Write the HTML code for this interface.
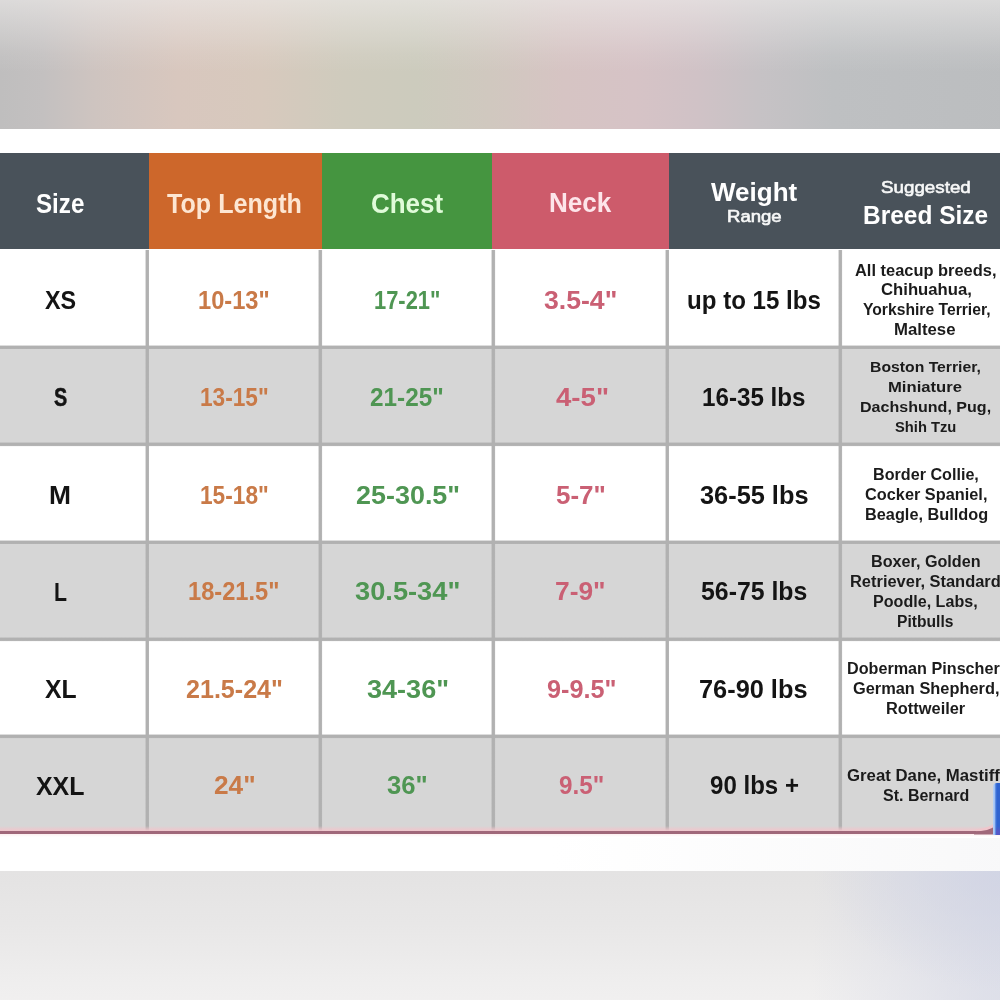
<!DOCTYPE html>
<html lang="en">
<head>
<meta charset="utf-8">
<title>Size Chart</title>
<style>
html,body{margin:0;padding:0;}
html{width:1000px;height:1000px;overflow:hidden;background:#ffffff;}
body{width:1000px;height:1000px;overflow:hidden;background:#ffffff;font-family:"Liberation Sans",sans-serif;position:relative;}
#clip{position:absolute;left:0;top:0;width:1000px;height:1000px;overflow:hidden;}
#wrap{position:absolute;left:-20px;top:-20px;width:1040px;height:1040px;overflow:hidden;background:#ffffff;filter:blur(0.55px);}
#page{position:absolute;left:20px;top:20px;width:1000px;height:1000px;}
.abs{position:absolute;}
#topbg{left:-20px;top:-20px;width:1040px;height:148.5px;
 background:
  linear-gradient(to bottom, rgba(238,236,235,.62) 13%, rgba(238,236,235,.38) 30%, rgba(238,236,235,.10) 50%, rgba(238,236,235,0) 62%),
  linear-gradient(to right,#bfbebe 2%,#c3c0c0 6%,#cec4c0 11%,#d8c7be 19%,#d7c9bd 27%,#cfcbbd 35%,#cccbbd 42%,#d0c8bf 49%,#d6c4c3 56%,#d6c3c6 63%,#d0c2c6 69%,#c6c2c5 75%,#bec0c2 82%,#bbbdbf 100%);}
#botbg{left:-20px;top:871px;width:1040px;height:150px;
 background:
  radial-gradient(ellipse 190px 120px at 1030px 0px, rgba(204,208,228,.6) 0%, rgba(206,210,228,.3) 55%, rgba(210,213,229,0) 100%),
  linear-gradient(to right, rgba(212,215,230,0) 80%, rgba(212,215,230,.3) 88%, rgba(212,215,230,.6) 96%, rgba(212,215,230,.7) 100%),
  linear-gradient(to bottom,#e4e3e3 0%,#e8e7e7 35%,#efeeee 75%,#f2f1f1 100%);}
.hd{top:153px;height:96.4px;}
.row{left:-20px;width:1040px;}
.w{background:#ffffff;}
.g{background:#d6d6d6;}
.hl{left:-20px;width:1040px;height:4.6px;background:linear-gradient(to bottom,rgba(176,176,176,0) 0,#b1b1b1 1.15px,#b1b1b1 3.45px,rgba(176,176,176,0) 4.6px);}
.vl{top:249.6px;height:582px;width:4.6px;background:linear-gradient(to right,rgba(176,176,176,0) 0,#b1b1b1 1.15px,#b1b1b1 3.45px,rgba(176,176,176,0) 4.6px);}
.t{position:absolute;white-space:nowrap;transform-origin:0 0;display:block;}
</style>
</head>
<body>
<div id="clip"><div id="wrap"><div id="page">
<div class="abs" id="topbg"></div>
<div class="abs" id="botbg"></div>

<!-- header -->
<div class="abs hd" style="left:-20px;width:168.5px;background:#49525a;"></div>
<div class="abs hd" style="left:148.5px;width:173.6px;background:#cd672b;"></div>
<div class="abs hd" style="left:322.1px;width:170px;background:#459540;"></div>
<div class="abs hd" style="left:492.1px;width:177px;background:#cd5b6b;"></div>
<div class="abs hd" style="left:669.1px;width:351px;background:#49525a;"></div>

<!-- rows -->
<div class="abs row w" style="top:249.4px;height:97.6px;"></div>
<div class="abs row g" style="top:347.0px;height:97.5px;"></div>
<div class="abs row w" style="top:444.5px;height:97.5px;"></div>
<div class="abs row g" style="top:542.0px;height:97.3px;"></div>
<div class="abs row w" style="top:639.3px;height:97.4px;"></div>
<div class="abs row g" style="top:736.7px;height:95.1px;"></div>

<!-- horizontal grid lines -->
<div class="abs hl" style="top:344.7px;"></div>
<div class="abs hl" style="top:442.2px;"></div>
<div class="abs hl" style="top:539.7px;"></div>
<div class="abs hl" style="top:637.0px;"></div>
<div class="abs hl" style="top:734.4px;"></div>

<!-- vertical grid lines -->
<div class="abs vl" style="left:144.7px;"></div>
<div class="abs vl" style="left:318.4px;"></div>
<div class="abs vl" style="left:491.2px;"></div>
<div class="abs vl" style="left:664.5px;"></div>
<div class="abs vl" style="left:838.4px;"></div>

<!-- bottom border -->
<div class="abs" style="left:-20px;top:825.6px;width:1040px;height:5.6px;background:linear-gradient(to bottom,rgba(240,198,204,0),rgba(240,198,204,.55) 50%,#f0c6cc 100%);"></div>
<div class="abs" style="left:-20px;top:831.3px;width:1040px;height:3.1px;background:#a0687a;"></div>
<div class="abs" style="left:-20px;top:834.4px;width:1040px;height:3px;background:linear-gradient(to bottom,#fdeff0,#ffffff);"></div>
<svg class="abs" style="left:970px;top:815px;" width="30" height="22" viewBox="0 0 30 22">
 <path d="M6 14.2 Q19 13.6 26 6.8 L26 16.4 L6 16.4 Z" fill="#f0c6cc"/>
 <path d="M4 16.3 Q19 16.2 26 10.4 L26 19.4 L4 19.4 Z" fill="#a0687a"/>
</svg>

<div class="abs" style="left:-20px;top:838px;width:1040px;height:33px;background:linear-gradient(to right,#ffffff 55%,#f8f8f9 100%);"></div>

<!-- blue sliver bottom right -->
<div class="abs" style="left:993px;top:783px;width:30px;height:51.6px;background:linear-gradient(to right,#b9d3f7 0,#9fc0f3 1.6px,#4a7fde 2.8px,#2f63d0 4px,#2f63d0 100%);border-top-left-radius:4px;"></div>
<div class="abs" style="left:995.5px;top:826px;width:30px;height:8.6px;background:linear-gradient(to bottom,rgba(90,80,200,0),rgba(96,84,196,.75) 60%);"></div>

<span class="t" style="left:36.00px;top:186.87px;font-size:27.71px;line-height:33.26px;font-weight:700;color:#ffffff;transform:scaleX(0.8723);">Size</span>
<span class="t" style="left:166.70px;top:186.76px;font-size:27.57px;line-height:33.09px;font-weight:700;color:#fde6d2;transform:scaleX(0.9114);">Top Length</span>
<span class="t" style="left:370.86px;top:186.87px;font-size:27.71px;line-height:33.26px;font-weight:700;color:#e0fbd9;transform:scaleX(0.9374);">Chest</span>
<span class="t" style="left:549.45px;top:186.84px;font-size:27.43px;line-height:32.91px;font-weight:700;color:#fde5ea;transform:scaleX(0.9513);">Neck</span>
<span class="t" style="left:710.80px;top:175.80px;font-size:26.67px;line-height:32.00px;font-weight:700;color:#ffffff;transform:scaleX(0.9766);">Weight</span>
<span class="t" style="left:726.62px;top:208.07px;font-size:15.71px;line-height:18.86px;font-weight:400;color:#f7f8f8;transform:scaleX(1.1814);-webkit-text-stroke:0.6px #f7f8f8;">Range</span>
<span class="t" style="left:881.10px;top:176.89px;font-size:17.18px;line-height:20.62px;font-weight:400;color:#f7f8f8;transform:scaleX(1.0937);-webkit-text-stroke:0.6px #f7f8f8;">Suggested</span>
<span class="t" style="left:863.43px;top:199.97px;font-size:25.22px;line-height:30.26px;font-weight:700;color:#ffffff;transform:scaleX(0.9699);">Breed Size</span>
<span class="t" style="left:44.50px;top:285.07px;font-size:25.71px;line-height:30.86px;font-weight:700;color:#141414;transform:scaleX(0.9079);">XS</span>
<span class="t" style="left:53.80px;top:381.86px;font-size:25.57px;line-height:30.69px;font-weight:700;color:#141414;transform:scaleX(0.7765);-webkit-text-stroke:0.5px #141414;">S</span>
<span class="t" style="left:49.47px;top:479.97px;font-size:25.71px;line-height:30.86px;font-weight:700;color:#141414;transform:scaleX(1.0263);">M</span>
<span class="t" style="left:54.27px;top:576.57px;font-size:25.71px;line-height:30.86px;font-weight:700;color:#141414;transform:scaleX(0.8286);">L</span>
<span class="t" style="left:45.00px;top:673.86px;font-size:25.57px;line-height:30.69px;font-weight:700;color:#141414;transform:scaleX(0.9672);">XL</span>
<span class="t" style="left:35.70px;top:770.61px;font-size:26.14px;line-height:31.37px;font-weight:700;color:#141414;transform:scaleX(0.9538);">XXL</span>
<span class="t" style="left:198.39px;top:284.85px;font-size:26.09px;line-height:31.30px;font-weight:700;color:#c97a48;transform:scaleX(0.9075);">10-13&quot;</span>
<span class="t" style="left:199.93px;top:381.63px;font-size:25.94px;line-height:31.13px;font-weight:700;color:#c97a48;transform:scaleX(0.8737);">13-15&quot;</span>
<span class="t" style="left:199.93px;top:479.75px;font-size:26.09px;line-height:31.30px;font-weight:700;color:#c97a48;transform:scaleX(0.8696);">15-18&quot;</span>
<span class="t" style="left:188.29px;top:576.35px;font-size:26.09px;line-height:31.30px;font-weight:700;color:#c97a48;transform:scaleX(0.9071);">18-21.5&quot;</span>
<span class="t" style="left:186.30px;top:673.63px;font-size:25.94px;line-height:31.13px;font-weight:700;color:#c97a48;transform:scaleX(0.9670);">21.5-24&quot;</span>
<span class="t" style="left:213.80px;top:770.39px;font-size:26.52px;line-height:31.83px;font-weight:700;color:#c97a48;transform:scaleX(0.9903);">24&quot;</span>
<span class="t" style="left:373.76px;top:284.85px;font-size:26.09px;line-height:31.30px;font-weight:700;color:#4f9653;transform:scaleX(0.8397);">17-21&quot;</span>
<span class="t" style="left:370.30px;top:381.63px;font-size:25.94px;line-height:31.13px;font-weight:700;color:#4f9653;transform:scaleX(0.9374);">21-25&quot;</span>
<span class="t" style="left:355.80px;top:479.75px;font-size:26.09px;line-height:31.30px;font-weight:700;color:#4f9653;transform:scaleX(1.0327);">25-30.5&quot;</span>
<span class="t" style="left:354.90px;top:576.35px;font-size:26.09px;line-height:31.30px;font-weight:700;color:#4f9653;transform:scaleX(1.0448);">30.5-34&quot;</span>
<span class="t" style="left:366.50px;top:673.63px;font-size:25.94px;line-height:31.13px;font-weight:700;color:#4f9653;transform:scaleX(1.0435);">34-36&quot;</span>
<span class="t" style="left:387.40px;top:770.39px;font-size:26.52px;line-height:31.83px;font-weight:700;color:#4f9653;transform:scaleX(0.9681);">36&quot;</span>
<span class="t" style="left:543.90px;top:284.85px;font-size:26.09px;line-height:31.30px;font-weight:700;color:#ca6074;transform:scaleX(1.0207);">3.5-4&quot;</span>
<span class="t" style="left:555.50px;top:381.63px;font-size:25.94px;line-height:31.13px;font-weight:700;color:#ca6074;transform:scaleX(1.0642);">4-5&quot;</span>
<span class="t" style="left:556.30px;top:479.75px;font-size:26.09px;line-height:31.30px;font-weight:700;color:#ca6074;transform:scaleX(0.9961);">5-7&quot;</span>
<span class="t" style="left:554.99px;top:576.35px;font-size:26.09px;line-height:31.30px;font-weight:700;color:#ca6074;transform:scaleX(1.0107);">7-9&quot;</span>
<span class="t" style="left:546.80px;top:673.63px;font-size:25.94px;line-height:31.13px;font-weight:700;color:#ca6074;transform:scaleX(0.9726);">9-9.5&quot;</span>
<span class="t" style="left:559.00px;top:770.39px;font-size:26.52px;line-height:31.83px;font-weight:700;color:#ca6074;transform:scaleX(0.9152);">9.5&quot;</span>
<span class="t" style="left:686.98px;top:284.85px;font-size:26.09px;line-height:31.30px;font-weight:700;color:#141414;transform:scaleX(0.9240);">up to 15 lbs</span>
<span class="t" style="left:702.27px;top:381.63px;font-size:25.94px;line-height:31.13px;font-weight:700;color:#141414;transform:scaleX(0.9325);">16-35 lbs</span>
<span class="t" style="left:700.30px;top:479.75px;font-size:26.09px;line-height:31.30px;font-weight:700;color:#141414;transform:scaleX(0.9719);">36-55 lbs</span>
<span class="t" style="left:700.90px;top:576.35px;font-size:26.09px;line-height:31.30px;font-weight:700;color:#141414;transform:scaleX(0.9530);">56-75 lbs</span>
<span class="t" style="left:699.32px;top:673.63px;font-size:25.94px;line-height:31.13px;font-weight:700;color:#141414;transform:scaleX(0.9772);">76-90 lbs</span>
<span class="t" style="left:709.60px;top:770.39px;font-size:26.52px;line-height:31.83px;font-weight:700;color:#141414;transform:scaleX(0.9073);">90 lbs +</span>
<span class="t" style="left:855.00px;top:260.53px;font-size:15.94px;line-height:19.13px;font-weight:700;color:#1b1b1b;transform:scaleX(1.0303);">All teacup breeds,</span>
<span class="t" style="left:880.60px;top:280.33px;font-size:15.94px;line-height:19.13px;font-weight:700;color:#1b1b1b;transform:scaleX(1.0470);">Chihuahua,</span>
<span class="t" style="left:862.60px;top:299.86px;font-size:16.23px;line-height:19.48px;font-weight:700;color:#1b1b1b;transform:scaleX(0.9664);">Yorkshire Terrier,</span>
<span class="t" style="left:894.35px;top:319.93px;font-size:15.94px;line-height:19.13px;font-weight:700;color:#1b1b1b;transform:scaleX(1.0520);">Maltese</span>
<span class="t" style="left:869.97px;top:357.88px;font-size:15.36px;line-height:18.43px;font-weight:700;color:#1b1b1b;transform:scaleX(1.0258);">Boston Terrier,</span>
<span class="t" style="left:887.92px;top:377.88px;font-size:15.36px;line-height:18.43px;font-weight:700;color:#1b1b1b;transform:scaleX(1.0838);">Miniature</span>
<span class="t" style="left:859.55px;top:397.88px;font-size:15.36px;line-height:18.43px;font-weight:700;color:#1b1b1b;transform:scaleX(1.0453);">Dachshund, Pug,</span>
<span class="t" style="left:895.00px;top:417.88px;font-size:15.36px;line-height:18.43px;font-weight:700;color:#1b1b1b;transform:scaleX(0.9590);">Shih Tzu</span>
<span class="t" style="left:872.59px;top:464.53px;font-size:15.94px;line-height:19.13px;font-weight:700;color:#1b1b1b;transform:scaleX(1.0129);">Border Collie,</span>
<span class="t" style="left:865.00px;top:484.93px;font-size:15.94px;line-height:19.13px;font-weight:700;color:#1b1b1b;transform:scaleX(1.0239);">Cocker Spaniel,</span>
<span class="t" style="left:864.58px;top:505.33px;font-size:15.94px;line-height:19.13px;font-weight:700;color:#1b1b1b;transform:scaleX(1.0228);">Beagle, Bulldog</span>
<span class="t" style="left:870.97px;top:552.51px;font-size:15.65px;line-height:18.78px;font-weight:700;color:#1b1b1b;transform:scaleX(1.0337);">Boxer, Golden</span>
<span class="t" style="left:849.97px;top:572.33px;font-size:15.94px;line-height:19.13px;font-weight:700;color:#1b1b1b;transform:scaleX(1.0317);">Retriever, Standard</span>
<span class="t" style="left:873.39px;top:591.93px;font-size:15.94px;line-height:19.13px;font-weight:700;color:#1b1b1b;transform:scaleX(1.0100);">Poodle, Labs,</span>
<span class="t" style="left:897.02px;top:611.93px;font-size:15.94px;line-height:19.13px;font-weight:700;color:#1b1b1b;transform:scaleX(0.9807);">Pitbulls</span>
<span class="t" style="left:846.97px;top:659.51px;font-size:15.65px;line-height:18.78px;font-weight:700;color:#1b1b1b;transform:scaleX(1.0340);">Doberman Pinscher,</span>
<span class="t" style="left:853.00px;top:678.93px;font-size:15.94px;line-height:19.13px;font-weight:700;color:#1b1b1b;transform:scaleX(1.0270);">German Shepherd,</span>
<span class="t" style="left:885.97px;top:698.93px;font-size:15.94px;line-height:19.13px;font-weight:700;color:#1b1b1b;transform:scaleX(1.0285);">Rottweiler</span>
<span class="t" style="left:847.00px;top:765.93px;font-size:15.94px;line-height:19.13px;font-weight:700;color:#1b1b1b;transform:scaleX(1.0520);">Great Dane, Mastiff,</span>
<span class="t" style="left:882.60px;top:785.86px;font-size:16.23px;line-height:19.48px;font-weight:700;color:#1b1b1b;transform:scaleX(0.9871);">St. Bernard</span>
</div></div></div>
</body>
</html>
